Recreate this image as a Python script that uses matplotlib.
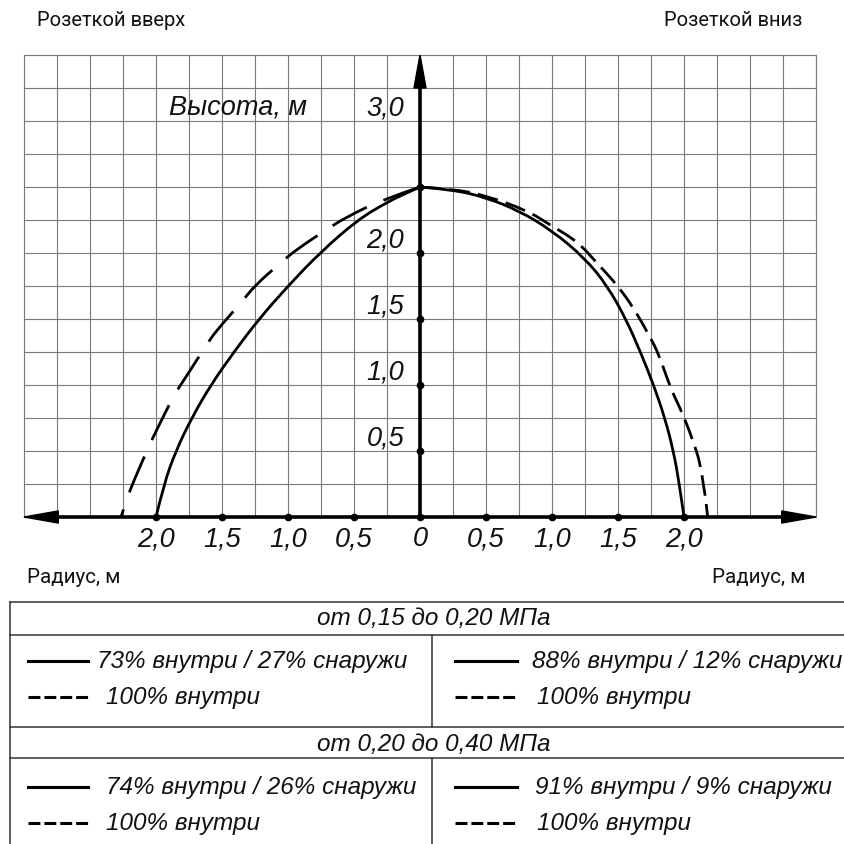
import matplotlib
matplotlib.use("Agg")
import matplotlib.pyplot as plt
from matplotlib.ticker import MultipleLocator
from matplotlib.path import Path
from matplotlib.patches import PathPatch
import numpy as np

# кривые орошения (радиус, высота)
left_solid_r = [0, 0.10, 0.24, 0.475, 0.76, 1.0, 1.22, 1.41, 1.585, 1.73, 1.85, 1.94, 2.0]
left_solid_h = [2.5, 2.455, 2.39, 2.25, 2.0, 1.75, 1.5, 1.25, 1.0, 0.75, 0.5, 0.25, 0.0]
left_dash_r = [0, 0.295, 0.56, 0.69, 0.93, 1.04, 1.255, 1.34, 1.545, 1.62, 1.78, 1.86,
               1.99, 2.05, 2.17, 2.22, 2.265]
left_dash_h = [2.5, 2.40, 2.27, 2.19, 2.03, 1.94, 1.75, 1.64, 1.41, 1.30, 1.05, 0.93,
               0.67, 0.545, 0.27, 0.14, 0.0]
right_solid_r = [0, 0.25, 0.5, 0.75, 1.0, 1.25, 1.42, 1.56, 1.67, 1.77, 1.855, 1.92, 1.965, 2.0]
right_solid_h = [2.5, 2.48, 2.42, 2.32, 2.17, 1.96, 1.75, 1.5, 1.25, 1.0, 0.75, 0.5, 0.25, 0.0]
right_dash_r = [0, 0.25, 0.5, 0.816, 0.99, 1.19, 1.345, 1.50, 1.62, 1.74, 1.81, 1.90, 1.98,
                2.065, 2.14, 2.18]
right_dash_h = [2.5, 2.485, 2.435, 2.32, 2.21, 2.09, 1.92, 1.75, 1.58, 1.37, 1.23, 0.97, 0.805,
                0.59, 0.35, 0.0]

x_ticks = [-2.0, -1.5, -1.0, -0.5, 0, 0.5, 1.0, 1.5, 2.0]
x_labels = ["2,0", "1,5", "1,0", "0,5", "0", "0,5", "1,0", "1,5", "2,0"]
y_ticks = [0.5, 1.0, 1.5, 2.0, 2.5]
y_label_vals = [0.5, 1.0, 1.5, 2.0, 3.0]
y_labels = ["0,5", "1,0", "1,5", "2,0", "3,0"]

legend_head = ["от 0,15 до 0,20 МПа", "от 0,20 до 0,40 МПа"]
legend_left = [["73% внутри / 27% снаружи", "100% внутри"],
               ["74% внутри / 26% снаружи", "100% внутри"]]
legend_right = [["88% внутри / 12% снаружи", "100% внутри"],
                ["91% внутри / 9% снаружи", "100% внутри"]]

W = 845
ital = dict(family=["Liberation Sans", "DejaVu Sans"], style="italic", color="#111")
reg = dict(family=["Roboto", "DejaVu Sans"], color="#111")


def smooth(ax, xs, ys, **kw):
    # квадратичные кривые Безье через середины отрезков
    pts = np.column_stack([xs, ys])
    verts = [pts[0]]
    codes = [Path.MOVETO]
    for i in range(1, len(pts) - 1):
        mid = (pts[i] + pts[i + 1]) / 2 if i < len(pts) - 2 else pts[i + 1]
        verts += [pts[i], mid]
        codes += [Path.CURVE3, Path.CURVE3]
    ax.add_patch(PathPatch(Path(verts, codes), fill=False, capstyle="butt", **kw))


fig = plt.figure(figsize=(8.45, 8.45), dpi=100)

# основная сетка: пиксели 24..816 по x, 56..518 по y
ax = fig.add_axes([24 / W, 1 - 518 / W, 792 / W, 462 / W])
ax.set_xlim(-3, 3)
ax.set_ylim(0, 3.5)
ax.xaxis.set_major_locator(MultipleLocator(0.25))
ax.yaxis.set_major_locator(MultipleLocator(0.25))
ax.tick_params(length=0, labelbottom=False, labelleft=False)
ax.grid(True, color="#7a7a7a", lw=0.8)
for s in ax.spines.values():
    s.set_color("#7a7a7a")
    s.set_linewidth(0.8)

# оси со стрелками
k = "#000"
ax.plot([-2.76, 2.76], [0, 0], color=k, lw=2.6, clip_on=False, zorder=5)
ax.plot([0, 0], [0, 3.26], color=k, lw=2.6, clip_on=False, zorder=5)
ax.fill([-3, -2.74, -2.74], [0, 0.046, -0.046], color=k, clip_on=False, zorder=5)
ax.fill([3, 2.74, 2.74], [0, 0.046, -0.046], color=k, clip_on=False, zorder=5)
ax.fill([0, 0.046, -0.046], [3.5, 3.25, 3.25], color=k, clip_on=False, zorder=5)
ax.plot(x_ticks, [0] * len(x_ticks), "o", color=k, ms=4.5, zorder=6, clip_on=False)
ax.plot([0] * len(y_ticks), y_ticks, "o", color=k, ms=4.5, zorder=6)

# кривые
smooth(ax, -np.array(left_solid_r), left_solid_h, color=k, lw=2.0, zorder=4)
smooth(ax, -np.array(left_dash_r), left_dash_h, color=k, lw=2.0, zorder=4,
       linestyle=(0, (14, 6.5)))
smooth(ax, right_solid_r, right_solid_h, color=k, lw=2.0, zorder=4)
smooth(ax, right_dash_r, right_dash_h, color=k, lw=2.0, zorder=4,
       linestyle=(0, (7.5, 3.0)))

for xv, t in zip(x_ticks, x_labels):
    ax.text(xv, -0.16, t, ha="center", va="center", fontsize=19.5, clip_on=False, **ital)
for yv, t in zip(y_label_vals, y_labels):
    ax.text(-0.12, yv + 0.105, t, ha="right", va="center", fontsize=19.5, **ital)
ax.text(-1.38, 3.11, "Высота, м", ha="center", va="center", fontsize=19.5, **ital)

# подписи и таблица легенды в пикселях
ov = fig.add_axes([0, 0, 1, 1], facecolor="none")
ov.set_xlim(0, W)
ov.set_ylim(W, 0)
ov.set_axis_off()

ov.text(37, 20, "Розеткой вверх", ha="left", va="center", fontsize=14.5, **reg)
ov.text(802, 20, "Розеткой вниз", ha="right", va="center", fontsize=14.5, **reg)
ov.text(27, 578, "Радиус, м", ha="left", va="center", fontsize=14.8, **reg)
ov.text(805, 578, "Радиус, м", ha="right", va="center", fontsize=14.8, **reg)

lc = "#333"
for yy in [603, 636, 728, 759]:
    ov.plot([10, W + 5], [yy, yy], color=lc, lw=1.1, clip_on=False)
ov.plot([10, 10], [603, W + 5], color=lc, lw=1.1, clip_on=False)
ov.plot([432, 432], [636, 728], color=lc, lw=1.1)
ov.plot([432, 432], [759, W + 5], color=lc, lw=1.1, clip_on=False)

head_y = [619, 745]
row_y = [[662, 698], [788, 824]]
fs = 17.5
for i in range(2):
    ov.text(434, head_y[i], legend_head[i], ha="center", va="center", fontsize=fs, **ital)
    y1, y2 = row_y[i]
    ov.plot([28, 88], [y1, y1], color=k, lw=2.2)
    ov.plot([28, 88], [y2, y2], color=k, lw=2.2, linestyle=(0, (3.9, 1.3)))
    ov.plot([455, 517], [y1, y1], color=k, lw=2.2)
    ov.plot([455, 517], [y2, y2], color=k, lw=2.2, linestyle=(0, (3.9, 1.3)))
    ov.text(97 if i == 0 else 106, y1, legend_left[i][0], ha="left", va="center",
            fontsize=fs, **ital)
    ov.text(106, y2, legend_left[i][1], ha="left", va="center", fontsize=fs, **ital)
    ov.text(532 if i == 0 else 535, y1, legend_right[i][0], ha="left", va="center",
            fontsize=fs, **ital)
    ov.text(537, y2, legend_right[i][1], ha="left", va="center", fontsize=fs, **ital)

fig.savefig("out.png", dpi=100, facecolor="white")
